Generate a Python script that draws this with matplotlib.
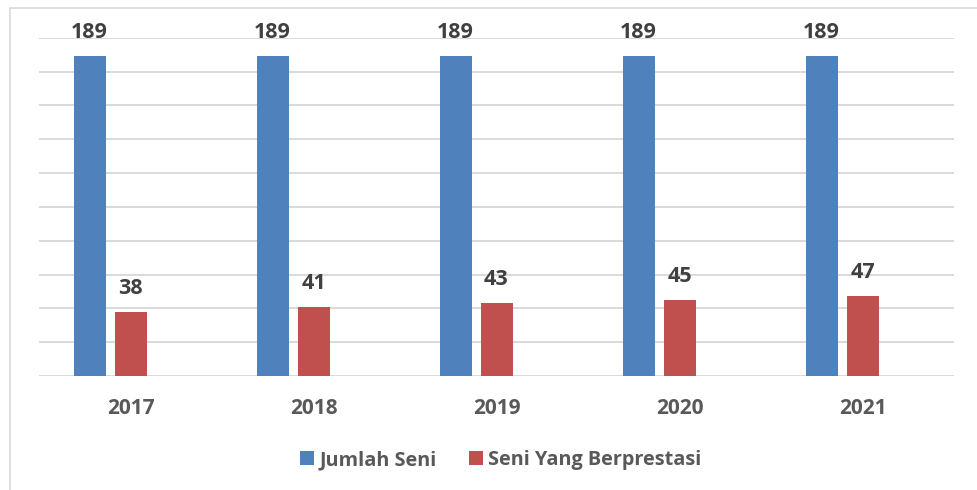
import matplotlib
matplotlib.use("Agg")
import matplotlib.pyplot as plt
import numpy as np
from matplotlib.patches import Rectangle

years = ["2017", "2018", "2019", "2020", "2021"]
jumlah_seni = [189, 189, 189, 189, 189]
seni_berprestasi = [38, 41, 43, 45, 47]
series_names = ["Jumlah Seni", "Seni Yang Berprestasi"]

plt.rcParams['font.family'] = ['Open Sans', 'DejaVu Sans']

W, H = 977, 490
fig = plt.figure(figsize=(W / 100, H / 100), dpi=100)
fig.patch.set_facecolor("white")

# chart frame (partially cropped at right and bottom)
fig.patches.append(Rectangle((10 / W, -0.05), 1.2, 1 - 8.5 / H + 0.05,
                             transform=fig.transFigure, fill=False,
                             edgecolor="#d9d9d9", linewidth=1.2))

ax = fig.add_axes([39 / W, 1 - 376 / H, (954 - 39) / W, (376 - 37.7) / H])
x = np.arange(len(years))
bw = 32 / 183
off = 41 / 183
blue, red = "#4F81BD", "#C0504D"
b1 = ax.bar(x - off, jumlah_seni, width=bw, color=blue, label=series_names[0], zorder=3)
b2 = ax.bar(x, seni_berprestasi, width=bw, color=red, label=series_names[1], zorder=3)

ax.set_xlim(-0.5, len(years) - 0.5)
ax.set_ylim(0, 200)
ax.set_yticks(np.arange(0, 201, 20))
ax.yaxis.grid(True, color="#d9d9d9", linewidth=1.4, zorder=0)
ax.set_axisbelow(True)
ax.tick_params(axis="y", length=0, labelleft=False)
ax.set_xticks(x)
ax.set_xticklabels(years, fontsize=15, fontweight="bold", color="#595959")
ax.tick_params(axis="x", length=0, pad=16)
for s in ax.spines.values():
    s.set_visible(False)

for bars in (b1, b2):
    for rect in bars:
        ax.annotate(f"{int(rect.get_height())}",
                    (rect.get_x() + rect.get_width() / 2, rect.get_height()),
                    xytext=(0, 13), textcoords="offset points",
                    ha="center", va="baseline", fontsize=15.5, fontweight="bold",
                    color="#404040")

leg = fig.legend(handles=[b1, b2], labels=series_names, loc="center",
                 bbox_to_anchor=(501 / W, 1 - 460 / H), ncol=2, frameon=False,
                 prop={"size": 14.3, "weight": "bold"}, handlelength=0.7,
                 handleheight=0.7, handletextpad=0.25, columnspacing=1.65)
for t in leg.get_texts():
    t.set_color("#595959")

fig.savefig("out.png", dpi=100, facecolor="white")
